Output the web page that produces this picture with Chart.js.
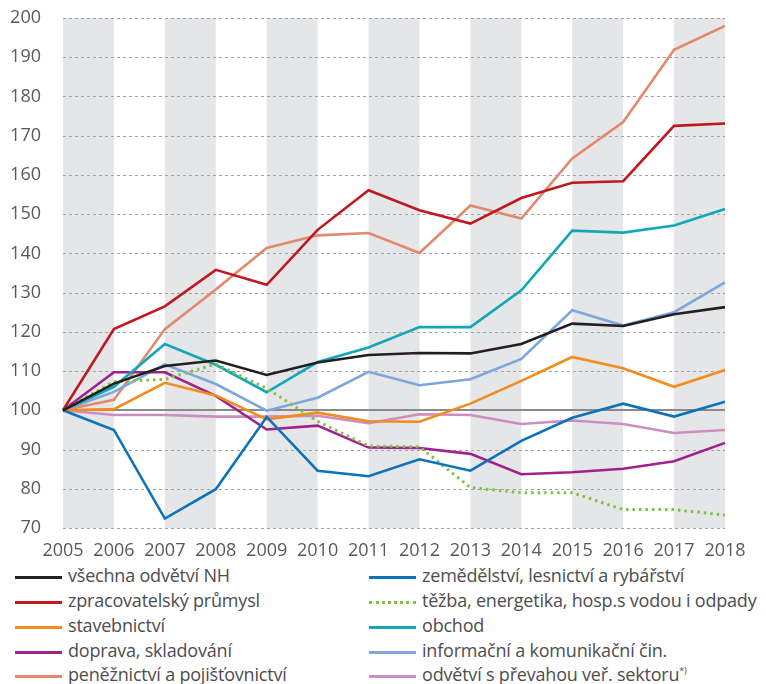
<!DOCTYPE html>
<html>
<head>
<meta charset="utf-8">
<script src="https://cdn.jsdelivr.net/npm/chart.js@4/dist/chart.umd.min.js"></script>
<style>
  body { margin: 0; background: #fff; }
  #wrap { position: relative; width: 766px; height: 684px; }
  #chart { position: absolute; left: 0; top: 0; }
  .item { position: absolute; height: 20px; font: 18px "Open Sans", sans-serif; color: #4d4d4f; white-space: nowrap; }
  .item .sw { position: absolute; left: 0; top: 9px; width: 47px; height: 0; border-top: 3px solid; }
  .item .tx { position: absolute; left: 53px; top: -4px; letter-spacing: -0.2px; }
  .item sup { font-size: 9px; }
</style>
</head>
<body>
<div id="wrap">
  <canvas id="chart" width="766" height="562"></canvas>
  <div id="legend"></div>
</div>
<script>
const years = ['2005', '2006', '2007', '2008', '2009', '2010', '2011', '2012', '2013', '2014', '2015', '2016', '2017', '2018'];
const yTicks = [70, 80, 90, 100, 110, 120, 130, 140, 150, 160, 170, 180, 190, 200];

const vsechna = [100, 106.8, 111.3, 112.7, 109.0, 112.2, 114.1, 114.6, 114.5, 116.9, 122.1, 121.5, 124.5, 126.3];
const zpracovatelsky = [100, 120.7, 126.5, 135.8, 132.0, 146.0, 156.1, 151.0, 147.6, 154.1, 158.0, 158.4, 172.5, 173.1];
const stavebnictvi = [100, 100.3, 107.0, 103.8, 97.7, 99.4, 97.2, 97.1, 101.7, 107.5, 113.6, 110.7, 106.0, 110.3];
const doprava = [100, 109.7, 109.7, 103.7, 95.1, 96.1, 90.5, 90.4, 88.9, 83.7, 84.2, 85.1, 87.0, 91.7];
const penezictvi = [100, 102.7, 120.7, 130.8, 141.4, 144.6, 145.2, 140.1, 152.2, 148.9, 164.2, 173.5, 191.9, 198.0];
const zemedelstvi = [100, 95.0, 72.4, 79.9, 98.3, 84.6, 83.2, 87.5, 84.6, 92.2, 98.1, 101.7, 98.4, 102.2];
const tezba = [100, 107.3, 107.9, 111.8, 105.6, 97.2, 90.9, 90.7, 80.3, 79.0, 79.0, 74.7, 74.7, 73.3];
const obchod = [100, 106.0, 116.9, 111.6, 104.6, 112.3, 116.0, 121.2, 121.2, 130.6, 145.8, 145.3, 147.1, 151.3];
const informacni = [100, 104.7, 111.7, 106.7, 99.9, 103.2, 109.8, 106.4, 107.9, 113.1, 125.5, 121.6, 125.0, 132.6];
const verejny = [100, 98.8, 98.8, 98.4, 98.4, 98.6, 96.7, 99.0, 98.8, 96.5, 97.4, 96.5, 94.2, 95.0];

const series = [
  { label: 'všechna odvětví NH', data: vsechna, color: '#231f20', col: 0, row: 0 },
  { label: 'zemědělství, lesnictví a rybářství', data: zemedelstvi, color: '#0b72bb', col: 1, row: 0 },
  { label: 'zpracovatelský průmysl', data: zpracovatelsky, color: '#c1181f', col: 0, row: 1 },
  { label: 'těžba, energetika, hosp.s vodou i odpady', data: tezba, color: '#7dc242', col: 1, row: 1, dotted: true },
  { label: 'stavebnictví', data: stavebnictvi, color: '#f28c1c', col: 0, row: 2 },
  { label: 'obchod', data: obchod, color: '#10a8b9', col: 1, row: 2 },
  { label: 'doprava, skladování', data: doprava, color: '#a0218e', col: 0, row: 3 },
  { label: 'informační a komunikační čin.', data: informacni, color: '#7ba7dc', col: 1, row: 3 },
  { label: 'peněžnictví a pojišťovnictví', data: penezictvi, color: '#e0896d', col: 0, row: 4 },
  { label: 'odvětví s převahou veř. sektoru', data: verejny, color: '#cc8ec2', col: 1, row: 4, sup: '*)' }
];

// grey bands behind every other year, then dashed grid lines and the solid 100 line
const background = {
  id: 'background',
  beforeDatasetsDraw(chart) {
    const { ctx, chartArea, scales } = chart;
    ctx.save();
    ctx.fillStyle = '#e5e6e8';
    for (let i = 0; i < years.length - 1; i += 2) {
      const x0 = scales.x.getPixelForValue(i);
      const x1 = scales.x.getPixelForValue(i + 1);
      ctx.fillRect(x0, chartArea.top, x1 - x0, chartArea.bottom - chartArea.top);
    }
    yTicks.forEach(v => {
      const y = Math.round(scales.y.getPixelForValue(v));
      ctx.beginPath();
      if (v === 100) {
        ctx.setLineDash([]);
        ctx.strokeStyle = '#8a8a8c';
        ctx.lineWidth = 2;
        ctx.moveTo(chartArea.left, y);
        ctx.lineTo(chartArea.right, y);
      } else {
        ctx.setLineDash([3, 3]);
        ctx.strokeStyle = '#a3a3a3';
        ctx.lineWidth = 1;
        ctx.moveTo(chartArea.left, y + 0.5);
        ctx.lineTo(chartArea.right, y + 0.5);
      }
      ctx.stroke();
    });
    ctx.restore();
  }
};

const tickFont = { family: '"Open Sans", sans-serif', size: 18 };

new Chart(document.getElementById('chart'), {
  type: 'line',
  data: {
    labels: years,
    datasets: series.map(s => ({
      label: s.label,
      data: s.data,
      borderColor: s.color,
      borderWidth: s.dotted ? 3 : 2.6,
      borderDash: s.dotted ? [2.5, 4] : [],
      pointRadius: 0,
      tension: 0,
      fill: false
    }))
  },
  options: {
    responsive: false,
    animation: false,
    layout: { padding: { top: 18, right: 41, left: 0, bottom: 0 } },
    plugins: { legend: { display: false }, tooltip: { enabled: false } },
    scales: {
      x: {
        offset: false,
        grid: { display: false },
        border: { display: false },
        ticks: { color: '#58595b', font: tickFont, padding: 4, maxRotation: 0, autoSkip: false },
        afterFit: scale => { scale.height = 34; }
      },
      y: {
        min: 70,
        max: 200,
        afterBuildTicks: scale => { scale.ticks = yTicks.map(v => ({ value: v })); },
        grid: { display: false, drawTicks: false },
        border: { display: false },
        ticks: { color: '#58595b', font: tickFont, padding: 22 },
        afterFit: scale => { scale.width = 63; scale.paddingTop = 0; scale.paddingBottom = 0; }
      }
    }
  },
  plugins: [background]
});

// legend in two columns
const legend = document.getElementById('legend');
const rowY = [567, 592, 617, 642, 666];
series.forEach(s => {
  const el = document.createElement('div');
  el.className = 'item';
  el.style.left = (s.col ? 369 : 15) + 'px';
  el.style.top = rowY[s.row] + 'px';
  const sw = document.createElement('div');
  sw.className = 'sw';
  sw.style.borderTopColor = s.color;
  if (s.dotted) sw.style.borderTopStyle = 'dotted';
  const tx = document.createElement('span');
  tx.className = 'tx';
  tx.textContent = s.label;
  if (s.sup) {
    const sup = document.createElement('sup');
    sup.textContent = s.sup;
    tx.appendChild(sup);
  }
  el.appendChild(sw);
  el.appendChild(tx);
  legend.appendChild(el);
});
</script>
</body>
</html>
